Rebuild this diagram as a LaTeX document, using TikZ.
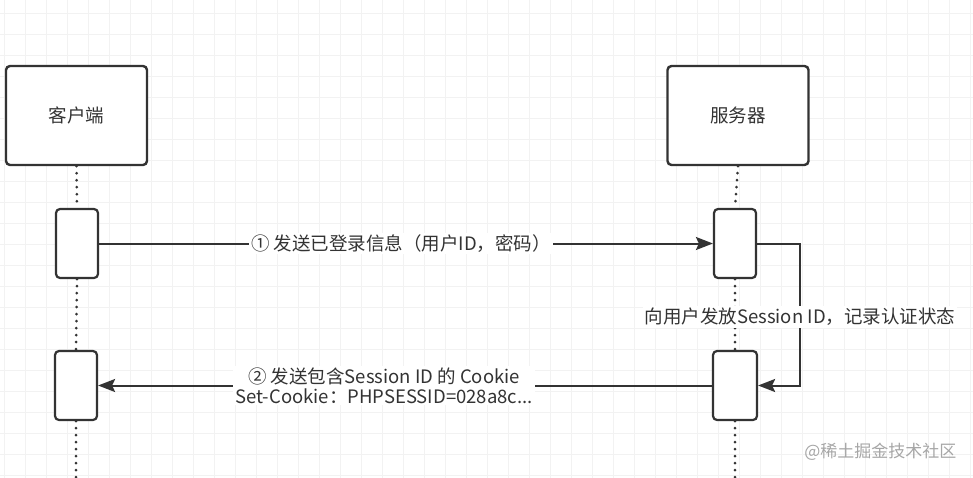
\documentclass[tikz,border=0pt]{standalone}
\usepackage{fontspec}
\setmainfont{Noto Sans CJK SC}
\usetikzlibrary{arrows.meta}

\definecolor{inkgray}{HTML}{333333}

\begin{document}
\begin{tikzpicture}[
  x=1pt, y=-1pt,
  gridline/.style={draw=black!5, line width=0.8pt},
  actor/.style={draw=inkgray, line width=2.4pt, rounded corners=4pt, minimum width=141pt, minimum height=99pt, fill=white, text=inkgray, font=\fontsize{18.5pt}{21pt}\selectfont, inner sep=0pt},
  act/.style={draw=inkgray, line width=2.2pt, rounded corners=4pt, minimum width=42pt, minimum height=69pt, fill=white, inner sep=0pt},
  life/.style={draw=inkgray, line width=3pt, line cap=round, dash pattern=on 0pt off 7pt},
  msg/.style={draw=inkgray, line width=2pt, -{Stealth[length=17pt, width=13pt, inset=3pt]}},
  lbl/.style={fill=white, text=inkgray, align=center, font=\fontsize{18.5pt}{20pt}\selectfont, inner sep=2pt}
]
\useasboundingbox (0,0) rectangle (973,478);

% background grid
\foreach \gx in {4,25,...,973} \draw[gridline] (\gx,0) -- (\gx,478);
\foreach \gy in {13,34,...,478} \draw[gridline] (0,\gy) -- (973,\gy);

% Lifeline heads
\node[actor] (client) at (76.5, 115.5) {客户端};
\node[actor] (server) at (738, 115.5) {服务器};

% Activations
\node[act] (cact1) at (77, 243.5) {};
\node[act] (cact2) at (76, 385.5) {};
\node[act] (sact1) at (735, 243.5) {};
\node[act, minimum width=44pt] (sact2) at (735, 385.5) {};
\coordinate (cend) at (76, 478);
\coordinate (send) at (735, 478);

% dotted lifelines
\draw[life] (client.south) -- (cact1.north);
\draw[life] (cact1.south) -- (cact2.north);
\draw[life] (cact2.south) -- (cend);
\draw[life] (server.south) -- (sact1.north);
\draw[life] (sact1.south) -- (sact2.north);
\draw[life] (sact2.south) -- (send);

% Messages
\draw[msg] (cact1.east) -- node[lbl, xshift=-5pt] (m1) {① 发送已登录信息（用户ID，密码）} (sact1.west);
\coordinate (loopa) at (800, 243.5);
\coordinate (loopb) at (800, 385.5);
\draw[msg] (sact1.east) -- (loopa) -- (loopb) -- (sact2.east);
\node[lbl] (m2) at (800, 317) {向用户发放Session ID，记录认证状态};
\draw[msg] (sact2.west) -- node[lbl, xshift=-21pt] (m3) {② 发送包含Session ID 的 Cookie\\Set-Cookie：PHPSESSID=028a8c...} (cact2.east);

% watermark
\node[text=black!35, font=\fontsize{17pt}{20pt}\selectfont, anchor=east] (mark) at (960, 452) {@稀土掘金技术社区};

\end{tikzpicture}
\end{document}
